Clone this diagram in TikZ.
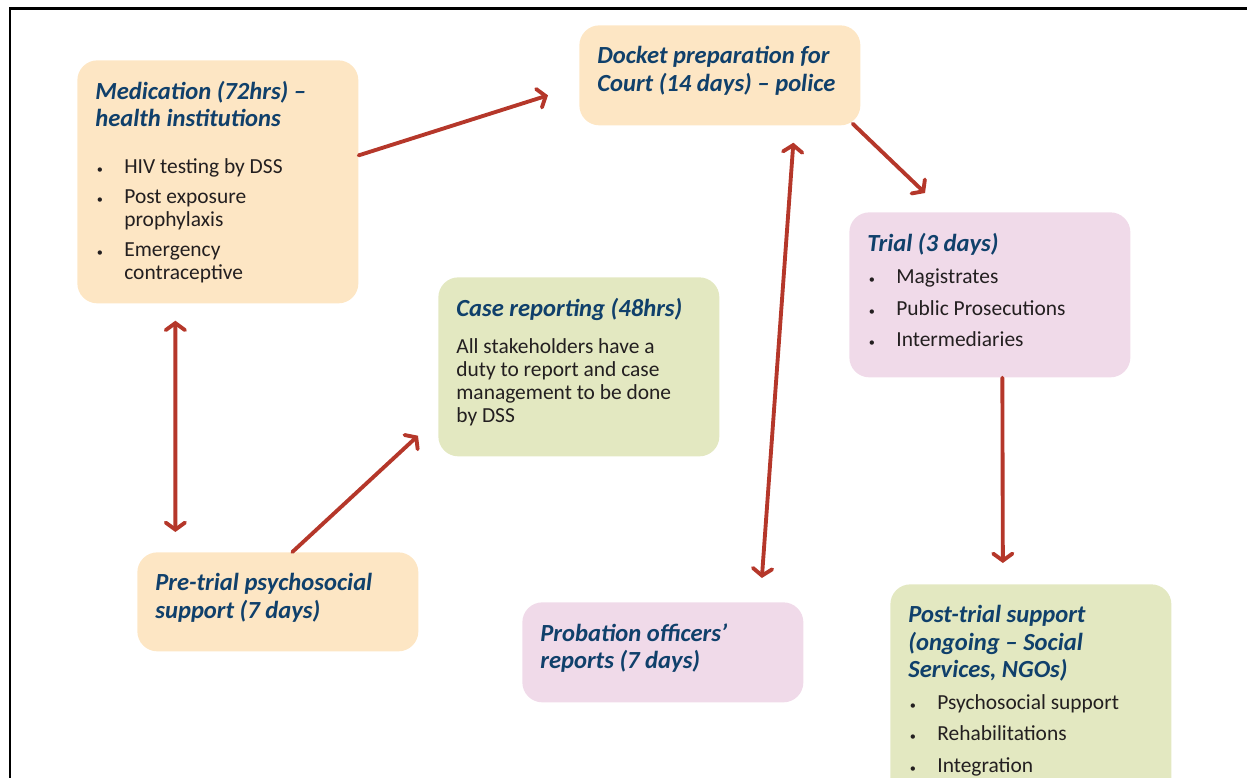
\documentclass[tikz,border=0pt]{standalone}
\usepackage{fontspec}
\setmainfont{Carlito}
\usetikzlibrary{arrows.meta}

\definecolor{peachbg}{RGB}{253,230,196}
\definecolor{pinkbg}{RGB}{240,218,233}
\definecolor{greenbg}{RGB}{227,232,193}
\definecolor{headblue}{RGB}{16,64,107}
\definecolor{bodytext}{RGB}{35,31,32}
\definecolor{arrowred}{RGB}{181,55,42}

\newcommand{\bodyfont}{\fontsize{12.2}{13.1}\selectfont}
\newcommand{\stagehead}[1]{{\fontsize{14}{15.6}\selectfont\bfseries\itshape\color{headblue}#1\par}}
\newcommand{\stageitem}[1]{\par\hangindent=0.58cm\hangafter=1\noindent
    \makebox[0.58cm][l]{\hspace{0.03cm}{\fontsize{7}{7}\selectfont\textbullet}}#1\par}
\newcommand{\stagebox}[2]{\begin{minipage}[t][#1][t]{4.9cm}#2\end{minipage}}

\begin{document}
\begin{tikzpicture}[
    stage/.style      = {rectangle, rounded corners=0.4cm, anchor=north west,
                         inner xsep=0.36cm, inner ysep=0.42cm,
                         font=\bodyfont, text=bodytext},
    peachstage/.style = {stage, fill=peachbg},
    pinkstage/.style  = {stage, fill=pinkbg},
    greenstage/.style = {stage, fill=greenbg},
    flow/.style       = {line width=2.2pt, draw=arrowred, line cap=round,
                         -{Straight Barb[length=4pt, width=11pt, line cap=round]}},
    twoway/.style     = {line width=2.2pt, draw=arrowred, line cap=round,
                         {Straight Barb[length=4pt, width=11pt, line cap=round]}-{Straight Barb[length=4pt, width=11pt, line cap=round]}},
]

\useasboundingbox (0,0) rectangle (24.94,-15.56);
\clip (0,0) rectangle (24.94,-15.56);

%% ============================================================
%% FRAME
%% ============================================================
\draw[line width=0.06cm] (0.2,-17) -- (0.2,-0.18) -- (26,-0.18);

%% ============================================================
%% STAGES
%% ============================================================
\node[peachstage] (med) at (1.54,-1.20) {\stagebox{4.02cm}{%
    \stagehead{Medication (72hrs) --\newline health institutions}
    \vspace{0.46cm}
    \stageitem{HIV testing by DSS}
    \vspace{0.14cm}
    \stageitem{Post exposure\newline prophylaxis}
    \vspace{0.14cm}
    \stageitem{Emergency\newline contraceptive}}};

\node[peachstage] (docket) at (11.58,-0.50) {\stagebox{1.16cm}{%
    \stagehead{Docket preparation for\newline Court (14 days) -- police}}};

\node[pinkstage] (trial) at (16.98,-4.24) {\stagebox{2.46cm}{%
    \stagehead{Trial (3 days)}
    \vspace{0.18cm}
    \stageitem{Magistrates}
    \vspace{0.17cm}
    \stageitem{Public Prosecutions}
    \vspace{0.17cm}
    \stageitem{Intermediaries}}};

\node[greenstage] (case) at (8.76,-5.54) {\stagebox{2.74cm}{%
    \stagehead{Case reporting (48hrs)}
    \vspace{0.28cm}
    \noindent All stakeholders have a\newline duty to report and case\newline
    management to be done\newline by DSS}};

\node[peachstage] (pre) at (2.74,-11.04) {\stagebox{1.14cm}{%
    \stagehead{Pre-trial psychosocial\newline support (7 days)}}};

\node[pinkstage] (prob) at (10.44,-12.04) {\stagebox{1.16cm}{%
    \stagehead{Probation officers'\newline reports (7 days)}}};

\node[greenstage] (post) at (17.80,-11.68) {\stagebox{3.8cm}{%
    \stagehead{Post-trial support\newline (ongoing -- Social\newline Services, NGOs)}
    \vspace{0.18cm}
    \stageitem{Psychosocial support}
    \vspace{0.17cm}
    \stageitem{Rehabilitations}
    \vspace{0.17cm}
    \stageitem{Integration}}};

%% ============================================================
%% CONNECTIONS
%% ============================================================
\draw[flow]   ([yshift=0.53cm]med.east) -- ([xshift=-0.62cm, yshift=-0.40cm]docket.west);
\draw[flow]   ([xshift=-0.16cm, yshift=0.04cm]docket.south east) -- ([xshift=1.52cm, yshift=0.38cm]trial.north west);
\draw[twoway] ([xshift=-0.85cm, yshift=-0.34cm]med.south) -- ([xshift=-2.05cm, yshift=0.40cm]pre.north);
\draw[flow]   ([xshift=0.29cm]pre.north) -- ([xshift=-0.40cm, yshift=0.42cm]case.south west);
\draw[twoway] ([xshift=1.47cm, yshift=-0.34cm]docket.south) -- ([xshift=1.98cm, yshift=0.48cm]prob.north);
\draw[flow]   ([xshift=0.25cm]trial.south) -- ([xshift=-0.56cm, yshift=0.42cm]post.north);

\end{tikzpicture}
\end{document}
